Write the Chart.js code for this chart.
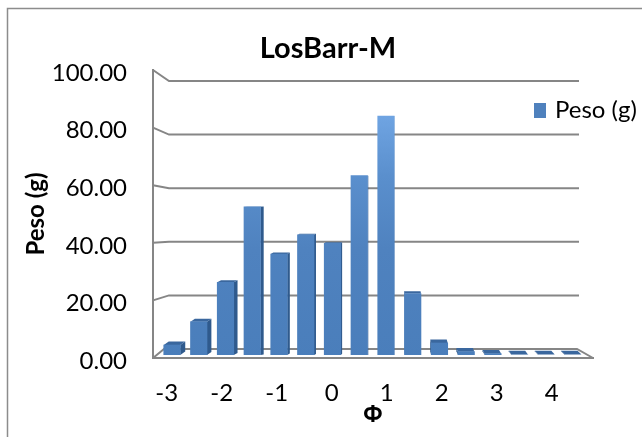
<!DOCTYPE html>
<html><head><meta charset="utf-8">
<style>html,body{margin:0;padding:0;background:#fff}#w{width:642px;height:437px}</style>
<script src="https://cdn.jsdelivr.net/npm/chart.js@4"></script>
</head><body><div id="w"><canvas id="c"></canvas></div>
<script>
const phi = [-3,-2.5,-2,-1.5,-1,-0.5,0,0.5,1,1.5,2,2.5,3,3.5,4,4.5];
const pesoValues = [4.5,12.6,26.3,52.5,36.1,42.8,39.8,63.3,84,22.4,5.2,2.2,1.5,1,0.6,0.5];
const tickLabels = ['-3','','-2','','-1','','0','','1','','2','','3','','4',''];
const chartTitle = 'LosBarr-M';
const seriesName = 'Peso (g)';
const GRID = '#868686', FONT = 'Lato, Carlito, sans-serif';

function frontFill(ctx){
  const ch = ctx.chart, a = ch.chartArea;
  if(!a) return '#4f81bd';
  const y = ch.scales.y;
  const g = ch.ctx.createLinearGradient(0,y.getPixelForValue(0),0,y.getPixelForValue(84));
  g.addColorStop(0,'#4a7ebb'); g.addColorStop(0.45,'#4f82bf'); g.addColorStop(0.75,'#5a8fcd'); g.addColorStop(1,'#6fa4e2');
  return g;
}
const walls = {
  id:'walls',
  beforeDraw(ch){
    const c = ch.ctx;
    c.save(); c.strokeStyle='#8c8c8c'; c.lineWidth=1.5;
    c.beginPath(); c.moveTo(7.5,437); c.lineTo(7.5,8.5); c.lineTo(642,8.5); c.stroke(); c.restore();
    if(ch.titleBlock){ ch.titleBlock.left=14; ch.titleBlock.right=642; }
    const l=ch.legend;
    if(l){ const w=l.right-l.left,h=l.bottom-l.top; l.left=534; l.right=l.left+w;
      l.top=110.5-12; l.bottom=l.top+h; }
  },
  beforeDatasetsDraw(ch){
    const c=ch.ctx, a=ch.chartArea, yF=ch.scales.y, yB=ch.scales.yBack;
    c.save(); c.strokeStyle=GRID; c.lineWidth=2;
    yF.ticks.forEach(t=>{
      const v=t.value, yf=yF.getPixelForValue(v), yb=yB.getPixelForValue(v);
      c.beginPath(); c.moveTo(a.left,yf); c.lineTo(a.left+(v===0?11:16),yb);
      c.lineTo(a.right-(v===0?16:14),yb);
      if(v===0) c.lineTo(a.right,yf);
      c.stroke();
    });
    c.restore();
    // depth faces of the bars, from the bars the library laid out
    const base=a.bottom-3;
    ch.getDatasetMeta(0).data.forEach(b=>{
      const p=b.getProps(['x','y','width'],true), L=p.x-p.width/2, R=p.x+p.width/2;
      const dx=(395-p.x)*0.0224, dy=-Math.max(0,(p.y-190)*0.0225);
      const top=Math.min(p.y,base-0.5);
      const sx=dx>=0?R:L;
      c.fillStyle='#2f5a8d';
      c.beginPath(); c.moveTo(sx,top); c.lineTo(sx+dx,top+dy); c.lineTo(sx+dx,base+dy); c.lineTo(sx,base); c.closePath(); c.fill();
      c.fillStyle='#3a679e';
      c.beginPath(); c.moveTo(L,top); c.lineTo(L+dx,top+dy); c.lineTo(R+dx,top+dy); c.lineTo(R,top); c.closePath(); c.fill();
    });
  }
};
new Chart(document.getElementById('c'),{
  type:'bar',
  plugins:[walls],
  data:{datasets:[{
    label:seriesName,
    data:phi.map((x,i)=>({x,y:pesoValues[i]})),
    xAxisID:'xBars', yAxisID:'y',
    backgroundColor:frontFill,
    barThickness:16.5,
    clip:{left:20,top:20,right:20,bottom:-3}
  }]},
  options:{
    responsive:true, maintainAspectRatio:false, animation:false,
    layout:{padding:{left:0,top:0,right:49,bottom:0}},
    plugins:{
      tooltip:{enabled:false},
      title:{display:true,text:chartTitle,color:'#000',font:{family:FONT,size:29,weight:'bold',lineHeight:1},padding:{top:34,bottom:7}},
      legend:{position:'chartArea',align:'start',labels:{
        boxWidth:9,boxHeight:15,padding:0,usePointStyle:true,pointStyle:'rect',color:'#000',font:{family:FONT,size:24},
        generateLabels(ch){return Chart.defaults.plugins.legend.labels.generateLabels(ch).map(o=>({...o,fillStyle:'#4f81bd',strokeStyle:'#4f81bd',lineWidth:0,pointStyle:'rect'}));}
      }}
    },
    scales:{
      x:{type:'category',axis:'x',position:'bottom',labels:tickLabels,offset:true,
        afterFit(s){s.height=79;},
        grid:{display:false,drawTicks:false},
        border:{display:true,color:GRID,width:2},
        ticks:{autoSkip:false,maxRotation:0,minRotation:0,padding:21,color:'#000',font:{family:FONT,size:24}},
        title:{display:true,text:'Φ',color:'#000',font:{family:'"Open Sans", sans-serif',size:23,weight:'bold'},padding:{top:0,bottom:8}}
      },
      xBars:{type:'linear',axis:'x',position:'bottom',display:false,offset:false,min:-3.355,max:4.87},
      y:{type:'linear',axis:'y',position:'left',min:0,max:100,
        afterFit(s){s.width=153;},
        grid:{display:false,drawTicks:false},
        border:{display:true,color:GRID,width:2},
        ticks:{stepSize:20,padding:26,labelOffset:3,color:'#000',font:{family:FONT,size:24},callback:v=>v.toFixed(2)},
        title:{display:true,text:'Peso (g)',color:'#000',font:{family:FONT,size:24,weight:'bold'},padding:{top:22,bottom:0}}
      },
      yBack:{type:'linear',axis:'y',position:'left',display:false,min:-3.36,max:104.1}
    }
  }
});
</script></body></html>
